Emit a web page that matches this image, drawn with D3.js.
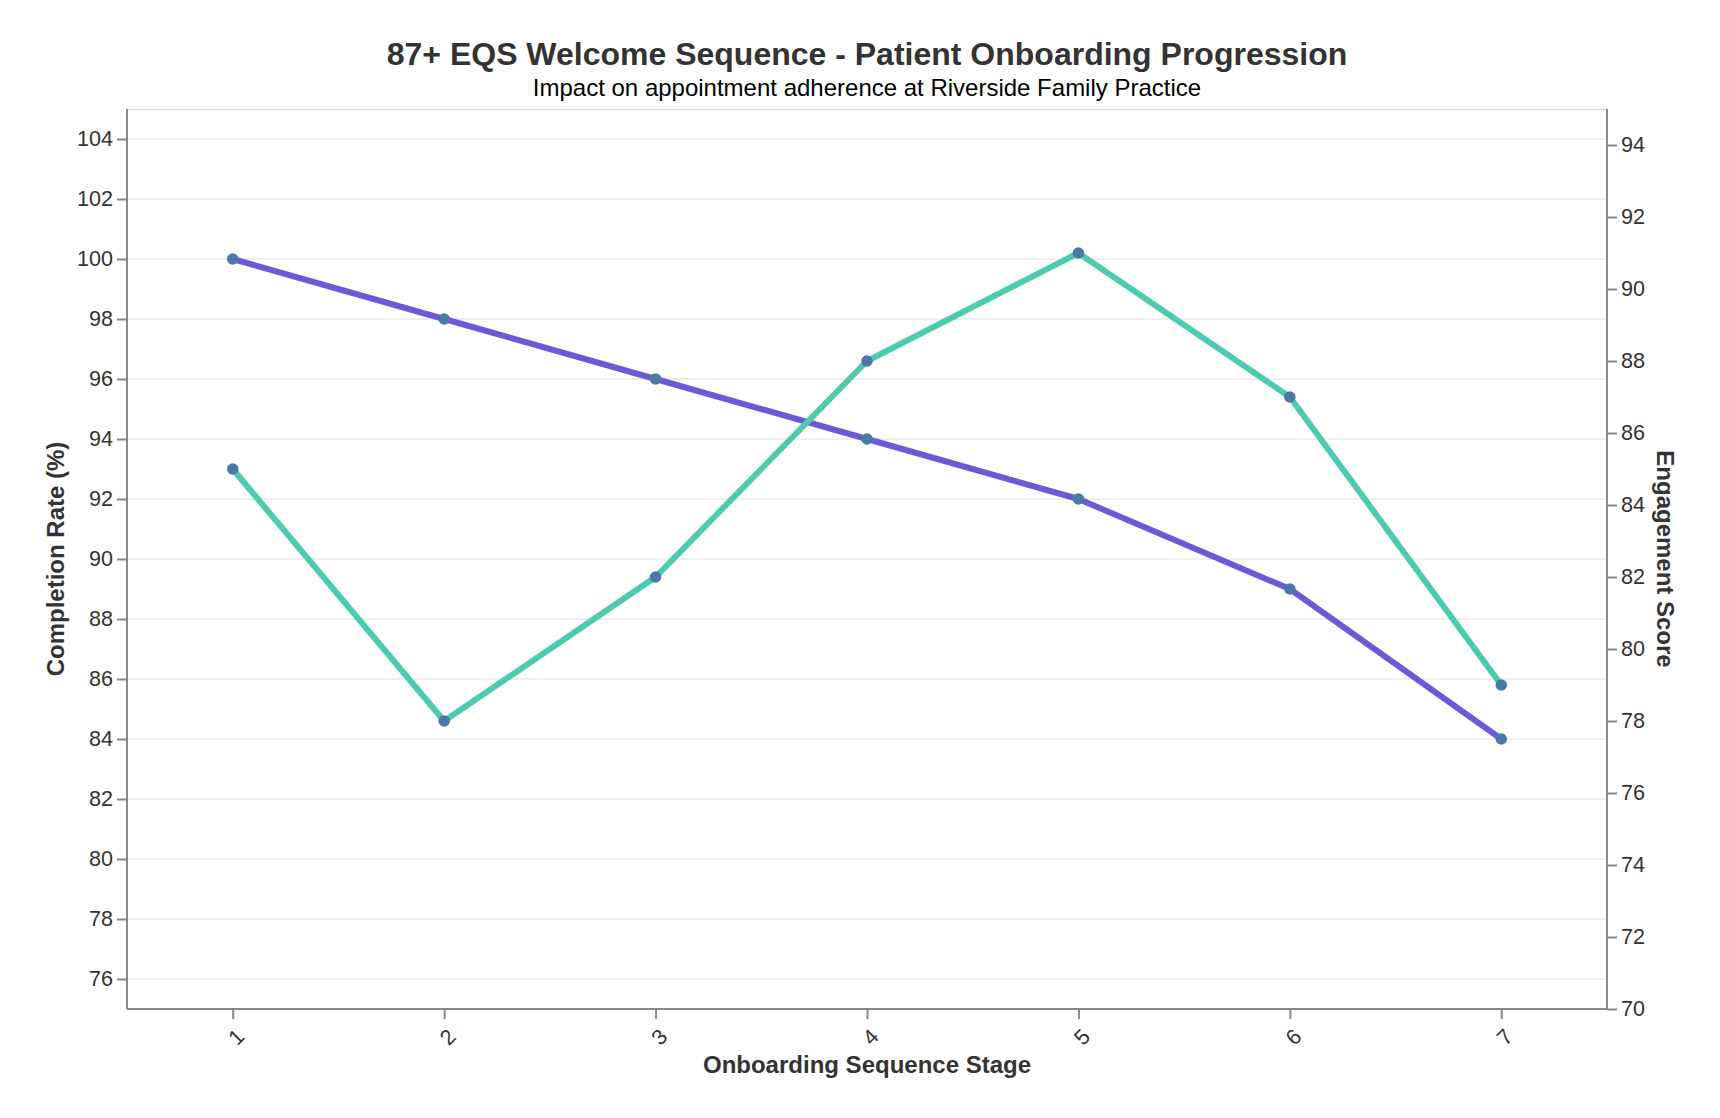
<!DOCTYPE html>
<html>
<head>
<meta charset="utf-8">
<script src="https://cdn.jsdelivr.net/npm/d3@7"></script>
<style>
  html, body { margin: 0; padding: 0; background: #fff; }
  svg { display: block; font-family: "Liberation Sans", Arial, Helvetica, sans-serif; }
</style>
</head>
<body>
<svg id="chart" width="1720" height="1118"></svg>
<script>
// ---- data ----
const stages = [1, 2, 3, 4, 5, 6, 7];
const completionRate = [100, 98, 96, 94, 92, 89, 84];
const engagementScore = [85, 78, 82, 88, 91, 87, 79];
const leftTicks = [76, 78, 80, 82, 84, 86, 88, 90, 92, 94, 96, 98, 100, 102, 104];
const rightTicks = [70, 72, 74, 76, 78, 80, 82, 84, 86, 88, 90, 92, 94];
const leftDomain = [75, 105];
const rightDomain = [70, 95];
const titleText = "87+ EQS Welcome Sequence - Patient Onboarding Progression";
const subtitleText = "Impact on appointment adherence at Riverside Family Practice";
const xTitle = "Onboarding Sequence Stage";
const yLeftTitle = "Completion Rate (%)";
const yRightTitle = "Engagement Score";

// ---- layout ----
const plot = { left: 127, right: 1607, top: 109, bottom: 1009 };
const svg = d3.select("#chart");

const x = d3.scalePoint().domain(stages).range([plot.left, plot.right]).padding(0.5);
const yL = d3.scaleLinear().domain(leftDomain).range([plot.bottom, plot.top]);
const yR = d3.scaleLinear().domain(rightDomain).range([plot.bottom, plot.top]);

const axisColor = "#888888";
const textColor = "#333333";

// top frame line
svg.append("line")
  .attr("x1", plot.left).attr("x2", plot.right)
  .attr("y1", plot.top + 0.5).attr("y2", plot.top + 0.5)
  .attr("stroke", "#dddddd").attr("stroke-width", 1.5);

// grid lines (left axis ticks)
svg.append("g").selectAll("line").data(leftTicks).join("line")
  .attr("x1", plot.left).attr("x2", plot.right)
  .attr("y1", d => yL(d)).attr("y2", d => yL(d))
  .attr("stroke", "#e8e8e8").attr("stroke-width", 1.5);

// axes
const gL = svg.append("g").attr("transform", `translate(${plot.left},0)`)
  .call(d3.axisLeft(yL).tickValues(leftTicks).tickSize(10).tickPadding(4));
const gR = svg.append("g").attr("transform", `translate(${plot.right},0)`)
  .call(d3.axisRight(yR).tickValues(rightTicks).tickSize(10).tickPadding(4));
const gB = svg.append("g").attr("transform", `translate(0,${plot.bottom})`)
  .call(d3.axisBottom(x).tickSize(10).tickPadding(4));

[gL, gR, gB].forEach(g => {
  g.select(".domain").attr("stroke", axisColor).attr("stroke-width", 2);
  g.selectAll(".tick line").attr("stroke", axisColor).attr("stroke-width", 2);
  g.selectAll(".tick text").attr("fill", textColor)
    .style("font-size", "21.6px").style("font-family", '"Liberation Sans", Arial, sans-serif');
});
gB.select(".domain").attr("d", `M${plot.left},0H${plot.right}`);
gL.select(".domain").attr("d", `M0,${plot.top}V${plot.bottom}`);
gR.select(".domain").attr("d", `M0,${plot.top}V${plot.bottom}`);

// rotate x tick labels
gB.selectAll(".tick text")
  .attr("y", null).attr("dy", null)
  .attr("text-anchor", "middle")
  .attr("dominant-baseline", "central")
  .attr("transform", "translate(3,28) rotate(-45)");

// lines
const lineL = d3.line().x((d, i) => x(stages[i])).y(d => yL(d));
const lineR = d3.line().x((d, i) => x(stages[i])).y(d => yR(d));

svg.append("path").datum(completionRate)
  .attr("d", lineL).attr("fill", "none")
  .attr("stroke", "#6a5ad8").attr("stroke-width", 6)
  .attr("stroke-linejoin", "round").attr("stroke-linecap", "round");
svg.append("g").selectAll("circle").data(completionRate).join("circle")
  .attr("cx", (d, i) => x(stages[i])).attr("cy", d => yL(d))
  .attr("r", 5.8).attr("fill", "#4c78a8");

svg.append("path").datum(engagementScore)
  .attr("d", lineR).attr("fill", "none")
  .attr("stroke", "#4ccbb0").attr("stroke-width", 6)
  .attr("stroke-linejoin", "round").attr("stroke-linecap", "round");
svg.append("g").selectAll("circle").data(engagementScore).join("circle")
  .attr("cx", (d, i) => x(stages[i])).attr("cy", d => yR(d))
  .attr("r", 5.8).attr("fill", "#4c78a8");

// titles
const cx = (plot.left + plot.right) / 2;
svg.append("text").attr("x", cx).attr("y", 65)
  .attr("text-anchor", "middle").attr("fill", textColor)
  .style("font-size", "32px").style("font-weight", "bold")
  .text(titleText);
svg.append("text").attr("x", cx).attr("y", 95.5)
  .attr("text-anchor", "middle").attr("fill", "#000")
  .style("font-size", "24px")
  .text(subtitleText);

svg.append("text").attr("x", cx).attr("y", 1073)
  .attr("text-anchor", "middle").attr("fill", textColor)
  .style("font-size", "24px").style("font-weight", "bold")
  .text(xTitle);

svg.append("text")
  .attr("transform", `translate(55,${(plot.top + plot.bottom) / 2}) rotate(-90)`)
  .attr("text-anchor", "middle").attr("dominant-baseline", "central")
  .attr("fill", textColor)
  .style("font-size", "24px").style("font-weight", "bold")
  .text(yLeftTitle);

svg.append("text")
  .attr("transform", `translate(1665,${(plot.top + plot.bottom) / 2}) rotate(90)`)
  .attr("text-anchor", "middle").attr("dominant-baseline", "central")
  .attr("fill", textColor)
  .style("font-size", "24px").style("font-weight", "bold")
  .text(yRightTitle);
</script>
</body>
</html>
